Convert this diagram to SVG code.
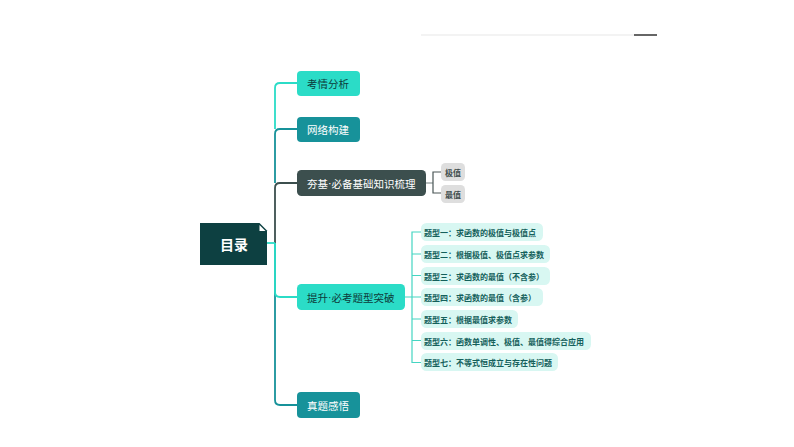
<svg xmlns="http://www.w3.org/2000/svg" width="794" height="447" viewBox="0 0 794 447">
<style>
text{font-family:"Noto Sans CJK SC","Noto Sans",sans-serif}
.c{fill:none;stroke-width:1.8}
.m{font-size:10.5px;dominant-baseline:central}
.d{font-family:"Liberation Sans",sans-serif}
.s{font-size:8px;font-weight:700;fill:#14605b;dominant-baseline:central}
.g{font-size:8px;font-weight:700;fill:#3f4d4d;text-anchor:middle;dominant-baseline:central}
.p{fill:#d8f7f2}
.l{fill:#2bdcc7}.t{fill:#17929a}
.lc{stroke:#2bdcc7}.tc{stroke:#17929a}.dc{stroke:#3c4f4e}
.sc{fill:none;stroke:#45d5c2;stroke-width:1.2}
.gc{fill:none;stroke:#4a5656;stroke-width:1.2}
</style>
<rect width="794" height="447" fill="#fff"/>
<rect x="421" y="34" width="213" height="2" fill="#f3f3f3"/>
<rect x="634" y="34" width="23" height="2" fill="#666"/>
<g id="connectors">
<path class="c tc" d="M275 243V400Q275 405 280 405H297"/>
<path class="c lc" d="M275 243V292Q275 297 280 297H297"/>
<path class="c dc" d="M275 243V188Q275 183 280 183H297"/>
<path class="c tc" d="M275 183V134Q275 129 280 129H297"/>
<path class="c lc" d="M275 129V88Q275 83 280 83H297"/>
<path class="c lc" d="M267 243H275"/>
<path d="M426 183H433" fill="none" stroke="#8a9494" stroke-width="1.2"/>
<path class="gc" d="M441 172H433V193H441"/>
<path class="sc" d="M405 297H421M421 232H412V362.500H421M412 254H421M412 275.500H421M412 319H421M412 340.500H421"/>
</g>
<g id="root">
<path d="M200 223H259.500L267 230.500V265H200Z" fill="#0d4041"/>
<path d="M259.500 225L265.500 231H259.500Z" fill="#fff"/>
<text x="234" y="244" font-size="14" font-weight="700" fill="#fff" text-anchor="middle" dominant-baseline="central">目录</text>
</g>
<g id="n1"><rect class="l" x="297" y="71" width="63" height="25" rx="4"/><text class="m" x="307" y="83.500" fill="#0d3b3a">考情分析</text></g>
<g id="n2"><rect class="t" x="297" y="117" width="63" height="25" rx="4"/><text class="m" x="307" y="129.500" fill="#fff">网络构建</text></g>
<g id="n3"><rect fill="#3c4f4e" x="297" y="170" width="129" height="26" rx="4.500"/><text class="m" x="307" y="183" fill="#fff">夯基<tspan class="d">·</tspan>必备基础知识梳理</text></g>
<g id="n4"><rect class="l" x="297" y="284" width="108" height="26" rx="4.500"/><text class="m" x="307" y="297" fill="#0d3b3a">提升<tspan class="d">·</tspan>必考题型突破</text></g>
<g id="n5"><rect class="t" x="297" y="392" width="63" height="26" rx="4"/><text class="m" x="307" y="405" fill="#fff">真题感悟</text></g>
<g id="g1"><rect fill="#dedede" x="441" y="163" width="24" height="18" rx="4.500"/><text class="g" x="453" y="172">极值</text></g>
<g id="g2"><rect fill="#dedede" x="441" y="185" width="24" height="18" rx="4.500"/><text class="g" x="453" y="194">最值</text></g>
<g id="s1"><rect class="p" x="421" y="223" width="122" height="18" rx="5.500"/><text class="s" x="424" y="232">题型一：求函数的极值与极值点</text></g>
<g id="s2"><rect class="p" x="421" y="245" width="129" height="18" rx="5.500"/><text class="s" x="424" y="254">题型二：根据极值、极值点求参数</text></g>
<g id="s3"><rect class="p" x="421" y="267" width="129" height="18" rx="5.500"/><text class="s" x="424" y="276">题型三：求函数的最值（不含参）</text></g>
<g id="s4"><rect class="p" x="421" y="288" width="122" height="18" rx="5.500"/><text class="s" x="424" y="297">题型四：求函数的最值（含参）</text></g>
<g id="s5"><rect class="p" x="421" y="310" width="97" height="18" rx="5.500"/><text class="s" x="424" y="319">题型五：根据最值求参数</text></g>
<g id="s6"><rect class="p" x="421" y="332" width="170" height="18" rx="5.500"/><text class="s" x="424" y="341">题型六：函数单调性、极值、最值得综合应用</text></g>
<g id="s7"><rect class="p" x="421" y="353" width="137" height="18" rx="5.500"/><text class="s" x="424" y="362">题型七：不等式恒成立与存在性问题</text></g>
</svg>
